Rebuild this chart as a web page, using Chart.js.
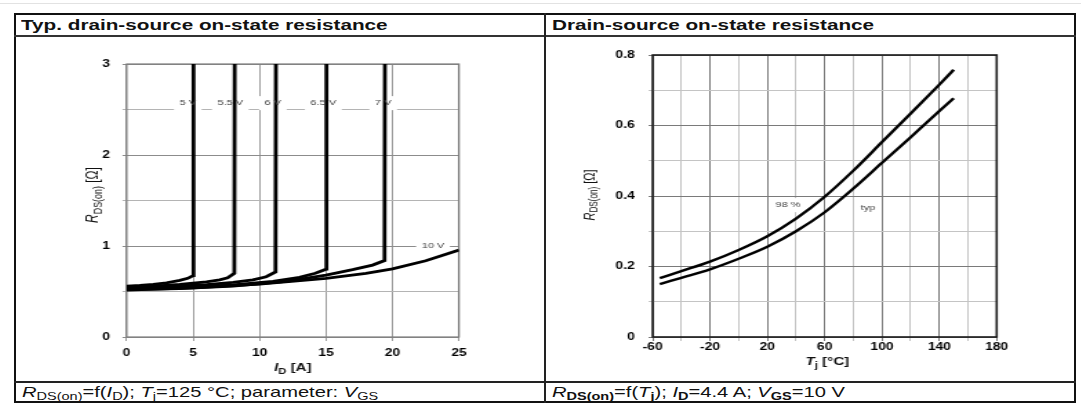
<!DOCTYPE html>
<html>
<head>
<meta charset="utf-8">
<script src="https://cdn.jsdelivr.net/npm/chart.js@4.4.1/dist/chart.umd.min.js"></script>
<style>
  html, body { margin: 0; padding: 0; background: #fff; }
  body { position: relative; width: 1081px; height: 416px; overflow: hidden; font-family: "Liberation Sans", Arial, sans-serif; color: #111; }
  .abs { position: absolute; }
  .stretch { white-space: nowrap; transform: scaleX(1.38); transform-origin: 0 0; }
  .title { font-weight: bold; font-size: 15px; line-height: 15px; }
  .caption { font-size: 14.6px; line-height: 14px; }
  .caption sub { font-size: 10.5px; vertical-align: -3px; line-height: 0; }
  .wrap { position: absolute; top: 37px; height: 344px; transform: scaleX(1.38); transform-origin: 0 0; }
</style>
</head>
<body>
<div class="abs" style="left:0;top:3px;width:1081px;height:1px;background:#e2e2e2"></div>
<div class="abs" style="left:14px;top:13px;width:1062px;height:390px;border:2px solid #111;box-sizing:border-box"></div>
<div class="abs" style="left:14px;top:35px;width:1062px;height:2px;background:#333"></div>
<div class="abs" style="left:14px;top:381px;width:1062px;height:2px;background:#222"></div>
<div class="abs" style="left:544px;top:13px;width:2px;height:390px;background:#222"></div>

<div class="abs stretch title" style="left:21px;top:17px">Typ. drain-source on-state resistance</div>
<div class="abs stretch title" style="left:552px;top:17px">Drain-source on-state resistance</div>

<div class="abs stretch caption" style="left:22px;top:385px"><i>R</i><sub>DS(on)</sub>=f(<i>I</i><sub>D</sub>); <i>T</i><sub>j</sub>=125 °C; parameter: <i>V</i><sub>GS</sub></div>
<div class="abs stretch caption" style="left:552px;top:385px"><i>R</i><sub><b>DS(on)</b></sub>=f(<i>T</i><sub><b>j</b></sub>); <i>I</i><sub><b>D</b></sub>=4.4 A; <i>V</i><sub><b>GS</b></sub>=10 V</div>

<div class="wrap" style="left:15px"><canvas id="leftChart" width="383" height="344"></canvas></div>
<div class="wrap" style="left:545px"><canvas id="rightChart" width="383" height="344"></canvas></div>

<script>
// ---- left chart: RDS(on) vs ID, Tj = 125 °C, parameter VGS ----
const vgsLabels = ['5 V', '5.5 V', '6 V', '6.5 V', '7 V', '10 V'];
const id5V = [0, 1, 2, 3, 4, 4.6, 5.0, 5.03];
const rds5V = [0.56, 0.566, 0.578, 0.596, 0.622, 0.645, 0.675, 3.2];
const id55V = [0, 2, 4, 6, 7, 7.6, 8.1, 8.13];
const rds55V = [0.55, 0.56, 0.578, 0.606, 0.628, 0.65, 0.70, 3.2];
const id6V = [0, 3, 6, 8, 9.5, 10.5, 11.2, 11.23];
const rds6V = [0.54, 0.552, 0.575, 0.6, 0.628, 0.662, 0.715, 3.2];
const id65V = [0, 4, 8, 11, 13, 14.2, 15.0, 15.03];
const rds65V = [0.53, 0.545, 0.572, 0.612, 0.655, 0.7, 0.745, 3.2];
const id7V = [0, 4, 8, 12, 15, 17, 18.5, 19.4, 19.43];
const rds7V = [0.52, 0.533, 0.56, 0.61, 0.68, 0.74, 0.79, 0.84, 3.2];
const id10V = [0, 5, 10, 15, 18, 20, 22.5, 25];
const rds10V = [0.515, 0.54, 0.58, 0.645, 0.7, 0.748, 0.838, 0.955];

// ---- right chart: RDS(on) vs Tj ----
const curveNames = ['98 %', 'typ'];
const tjValues = [-55, -40, -20, 0, 20, 40, 60, 80, 100, 120, 140, 150];
const rds98 = [0.167, 0.187, 0.214, 0.247, 0.286, 0.336, 0.398, 0.472, 0.553, 0.634, 0.716, 0.758];
const rdsTyp = [0.150, 0.168, 0.192, 0.222, 0.256, 0.300, 0.354, 0.421, 0.494, 0.567, 0.641, 0.677];

const FONT = '"Liberation Sans", Arial, sans-serif';

function pts(xs, ys) {
  return xs.map((x, i) => ({ x: x, y: ys[i] }));
}

// text made of pieces, some italic / subscript
function drawRich(ctx, parts, x, y, size, rotate) {
  ctx.save();
  ctx.translate(x, y);
  if (rotate) ctx.rotate(-Math.PI / 2);
  const fontOf = p => (p.i ? 'italic ' : '') + (p.b ? 'bold ' : '') + (p.s ? size * 0.74 : size) + 'px ' + FONT;
  let total = 0;
  const widths = parts.map(p => { ctx.font = fontOf(p); const w = ctx.measureText(p.t).width; total += w; return w; });
  let cx = -total / 2;
  ctx.textBaseline = 'middle';
  ctx.textAlign = 'left';
  ctx.fillStyle = '#111';
  parts.forEach((p, k) => {
    ctx.font = fontOf(p);
    ctx.fillText(p.t, cx, p.s ? size * 0.32 : 0);
    cx += widths[k];
  });
  ctx.restore();
}

// frame round the plot area + axis titles
function framePlugin(color, width, xTitle, yTitle) {
  return {
    id: 'frameAndTitles',
    beforeDatasetsDraw(chart) {
      const { ctx, chartArea: a } = chart;
      ctx.save();
      ctx.strokeStyle = color;
      ctx.lineWidth = width;
      ctx.strokeRect(a.left, a.top, a.right - a.left, a.bottom - a.top);
      ctx.restore();
    },
    afterDraw(chart) {
      const { ctx, chartArea: a } = chart;
      drawRich(ctx, xTitle.parts, (a.left + a.right) / 2 + (xTitle.dx || 0), a.bottom + xTitle.dy, xTitle.size, false);
      drawRich(ctx, yTitle.parts, a.left - yTitle.dx, yTitle.y, yTitle.size, true);
    }
  };
}

// small curve labels with a white box behind
function labelPlugin(labels) {
  const textW = (ctx, l) => {
    ctx.font = '8px ' + FONT;
    return ctx.measureText(l.text).width;
  };
  return {
    id: 'curveLabels',
    beforeDatasetsDraw(chart) {
      const { ctx, scales } = chart;
      ctx.save();
      ctx.fillStyle = '#fff';
      labels.forEach(l => {
        const w = textW(ctx, l);
        const px = scales.x.getPixelForValue(l.x), py = scales.y.getPixelForValue(l.y);
        ctx.fillRect(px - w / 2 - l.pad, py - 7, w + 2 * l.pad, l.h || 14);
      });
      ctx.restore();
    },
    afterDatasetsDraw(chart) {
      const { ctx, scales } = chart;
      ctx.save();
      ctx.fillStyle = '#444';
      ctx.textAlign = 'center';
      ctx.textBaseline = 'middle';
      labels.forEach(l => {
        ctx.font = '8px ' + FONT;
        ctx.fillText(l.text, scales.x.getPixelForValue(l.x), scales.y.getPixelForValue(l.y));
      });
      ctx.restore();
    }
  };
}

const tickFont = { family: FONT, size: 10, weight: 'bold' };

// left chart
const leftSeries = [[id5V, rds5V], [id55V, rds55V], [id6V, rds6V], [id65V, rds65V], [id7V, rds7V], [id10V, rds10V]];
new Chart(document.getElementById('leftChart'), {
  type: 'line',
  data: {
    datasets: leftSeries.map((s, i) => ({
      label: vgsLabels[i],
      data: pts(s[0], s[1]),
      borderColor: '#000',
      borderWidth: 2.8,
      pointRadius: 0,
      tension: 0,
      clip: 0,
      fill: false
    }))
  },
  options: {
    responsive: false,
    animation: false,
    events: [],
    layout: { padding: { left: 0, top: 27, right: 61.3, bottom: 4 } },
    plugins: { legend: { display: false }, tooltip: { enabled: false } },
    scales: {
      x: {
        type: 'linear', min: 0, max: 25,
        ticks: { stepSize: 5, font: tickFont, color: '#000', padding: 6, maxRotation: 0, autoSkip: false },
        grid: { color: '#9c9c9c', lineWidth: 1, tickLength: 4 },
        border: { display: false },
        afterFit: s => { s.height = 40; }
      },
      y: {
        min: 0, max: 3,
        ticks: { stepSize: 0.5, font: tickFont, color: '#000', padding: 9, autoSkip: false,
          callback: v => (v % 1 === 0 ? String(v) : '') },
        grid: { color: c => (c.tick && c.tick.value % 1 === 0 ? '#8c8c8c' : '#b4b4b4'), lineWidth: 1, tickLength: 3 },
        border: { display: false },
        afterFit: s => { s.width = 80.9; }
      }
    }
  },
  plugins: [
    framePlugin('#7c7c7c', 1.2,
      { parts: [{ t: 'I', i: 1, b: 1 }, { t: 'D', s: 1, b: 1 }, { t: ' [A]', b: 1 }], size: 11, dy: 31 },
      { parts: [{ t: 'R', i: 1 }, { t: 'DS(on)', s: 1 }, { t: ' [Ω]' }], size: 12, dx: 24.4, y: 158 }),
    labelPlugin([
      { text: vgsLabels[0], x: 4.6, y: 2.57, pad: 4 },
      { text: vgsLabels[1], x: 7.8, y: 2.57, pad: 4 },
      { text: vgsLabels[2], x: 11.0, y: 2.57, pad: 4 },
      { text: vgsLabels[3], x: 14.8, y: 2.57, pad: 4 },
      { text: vgsLabels[4], x: 19.3, y: 2.57, pad: 4 },
      { text: vgsLabels[5], x: 23.05, y: 1.0, pad: 4, h: 12 }
    ])
  ]
});

// right chart
const rightSeries = [rds98, rdsTyp];
new Chart(document.getElementById('rightChart'), {
  type: 'line',
  data: {
    datasets: rightSeries.map((s, i) => ({
      label: curveNames[i],
      data: pts(tjValues, s),
      borderColor: '#000',
      borderWidth: 2.4,
      pointRadius: 0,
      cubicInterpolationMode: 'monotone',
      fill: false
    }))
  },
  options: {
    responsive: false,
    animation: false,
    events: [],
    layout: { padding: { left: 0, top: 18, right: 55.7, bottom: 4 } },
    plugins: { legend: { display: false }, tooltip: { enabled: false } },
    scales: {
      x: {
        type: 'linear', min: -60, max: 180,
        ticks: { stepSize: 20, font: tickFont, color: '#000', padding: 0, maxRotation: 0, autoSkip: false,
          callback: v => ((v + 60) % 40 === 0 ? String(v) : '') },
        grid: { color: c => (c.tick && (c.tick.value + 60) % 40 === 0 ? '#7a7a7a' : '#c4c4c4'), lineWidth: 1, tickLength: 4 },
        border: { display: false },
        afterFit: s => { s.height = 40; }
      },
      y: {
        min: 0, max: 0.8,
        ticks: { stepSize: 0.1, font: tickFont, color: '#000', padding: 10, autoSkip: false,
          callback: v => { const r = Math.round(v * 10); return r % 2 === 0 ? (r === 0 ? '0' : (r / 10).toFixed(1)) : ''; } },
        grid: { color: c => (c.tick && Math.round(c.tick.value * 10) % 2 === 0 ? '#7a7a7a' : '#c4c4c4'), lineWidth: 1, tickLength: 3 },
        border: { display: false },
        afterFit: s => { s.width = 78.0; }
      }
    }
  },
  plugins: [
    framePlugin('#1a1a1a', 1.6,
      { parts: [{ t: 'T', i: 1, b: 1 }, { t: 'j', s: 1, b: 1 }, { t: ' [°C]', b: 1 }], size: 11, dx: 2, dy: 25 },
      { parts: [{ t: 'R', i: 1 }, { t: 'DS(on)', s: 1 }, { t: ' [Ω]' }], size: 11, dx: 45.4, y: 158 }),
    labelPlugin([
      { text: curveNames[0], x: 34.4, y: 0.374, pad: 3 },
      { text: curveNames[1], x: 90.2, y: 0.366, pad: 3 }
    ])
  ]
});
</script>
</body>
</html>
